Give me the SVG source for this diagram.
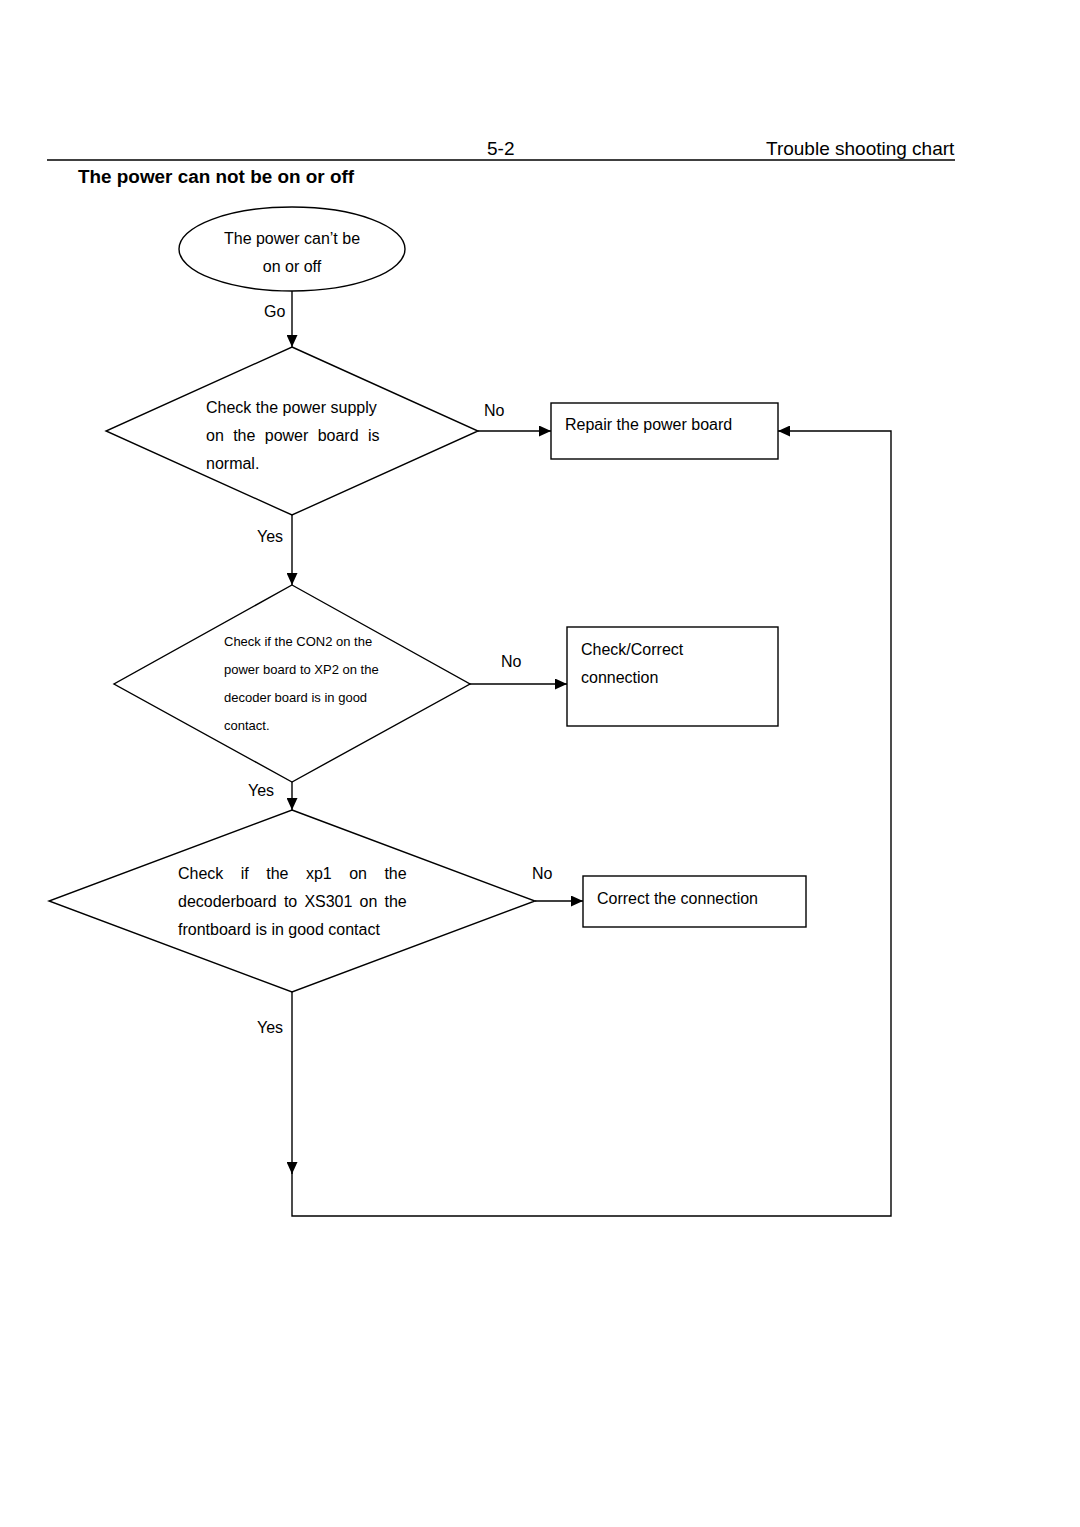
<svg xmlns="http://www.w3.org/2000/svg" width="1080" height="1527" viewBox="0 0 1080 1527">
<defs>
<marker id="arr" markerWidth="13" markerHeight="11" refX="12" refY="5.5" orient="auto" markerUnits="userSpaceOnUse">
<path d="M0,0 L12,5.5 L0,11 Z" fill="#000"/>
</marker>
<style>
text{font-family:"Liberation Sans",Arial,sans-serif;fill:#000}
.t16{font-size:16px}
.t13{font-size:13px}
.shape{fill:#fff;stroke:#000;stroke-width:1.4}
.conn{fill:none;stroke:#000;stroke-width:1.4}
</style>
</defs>
<rect width="1080" height="1527" fill="#fff"/>
<g id="header">
<text x="487" y="155" style="font-size:19px">5-2</text>
<text x="766" y="155" style="font-size:19px">Trouble shooting chart</text>
<line x1="47" y1="160" x2="955" y2="160" stroke="#000" stroke-width="1.6"/>
<text x="78" y="183" style="font-size:18.9px;font-weight:bold">The power can not be on or off</text>
</g>
<g id="connectors">
<path class="conn" d="M292 291 V347" marker-end="url(#arr)"/>
<path class="conn" d="M478 431 H551" marker-end="url(#arr)"/>
<path class="conn" d="M292 515 V585" marker-end="url(#arr)"/>
<path class="conn" d="M470 684 H567" marker-end="url(#arr)"/>
<path class="conn" d="M292 782 V810" marker-end="url(#arr)"/>
<path class="conn" d="M535 901 H583" marker-end="url(#arr)"/>
<path class="conn" d="M292 992 V1174" marker-end="url(#arr)"/>
<path class="conn" d="M292 1172 V1216 H891 V431 H778" marker-end="url(#arr)"/>
<text class="t16" x="264" y="317">Go</text>
<text class="t16" x="484" y="416">No</text>
<text class="t16" x="257" y="542">Yes</text>
<text class="t16" x="501" y="667">No</text>
<text class="t16" x="248" y="796">Yes</text>
<text class="t16" x="532" y="879">No</text>
<text class="t16" x="257" y="1033">Yes</text>
</g>
<g id="start">
<ellipse class="shape" cx="292" cy="249" rx="113" ry="42"/>
<text class="t16" x="292" y="244" text-anchor="middle">The power can’t be</text>
<text class="t16" x="292" y="272" text-anchor="middle">on or off</text>
</g>
<g id="decision1">
<polygon class="shape" points="292,347 478,431 292,515 106,431"/>
<text class="t16" x="206" y="413">Check the power supply</text>
<text class="t16" x="206" y="441" word-spacing="4.9">on the power board is</text>
<text class="t16" x="206" y="469">normal.</text>
</g>
<g id="repair">
<rect class="shape" x="551" y="403" width="227" height="56"/>
<text class="t16" x="565" y="430">Repair the power board</text>
</g>
<g id="decision2">
<polygon class="shape" points="292,585 470,684 292,782 114,684"/>
<text class="t13" x="224" y="646">Check if the CON2 on the</text>
<text class="t13" x="224" y="674">power board to XP2 on the</text>
<text class="t13" x="224" y="702">decoder board is in good</text>
<text class="t13" x="224" y="730">contact.</text>
</g>
<g id="checkcorrect">
<rect class="shape" x="567" y="627" width="211" height="99"/>
<text class="t16" x="581" y="655">Check/Correct</text>
<text class="t16" x="581" y="683">connection</text>
</g>
<g id="decision3">
<polygon class="shape" points="292,810 535,901 292,992 49,901"/>
<text class="t16" x="178" y="879" word-spacing="13">Check if the xp1 on the</text>
<text class="t16" x="178" y="907" word-spacing="2.7">decoderboard to XS301 on the</text>
<text class="t16" x="178" y="935">frontboard is in good contact</text>
</g>
<g id="correct">
<rect class="shape" x="583" y="876" width="223" height="51"/>
<text class="t16" x="597" y="904">Correct the connection</text>
</g>
</svg>
